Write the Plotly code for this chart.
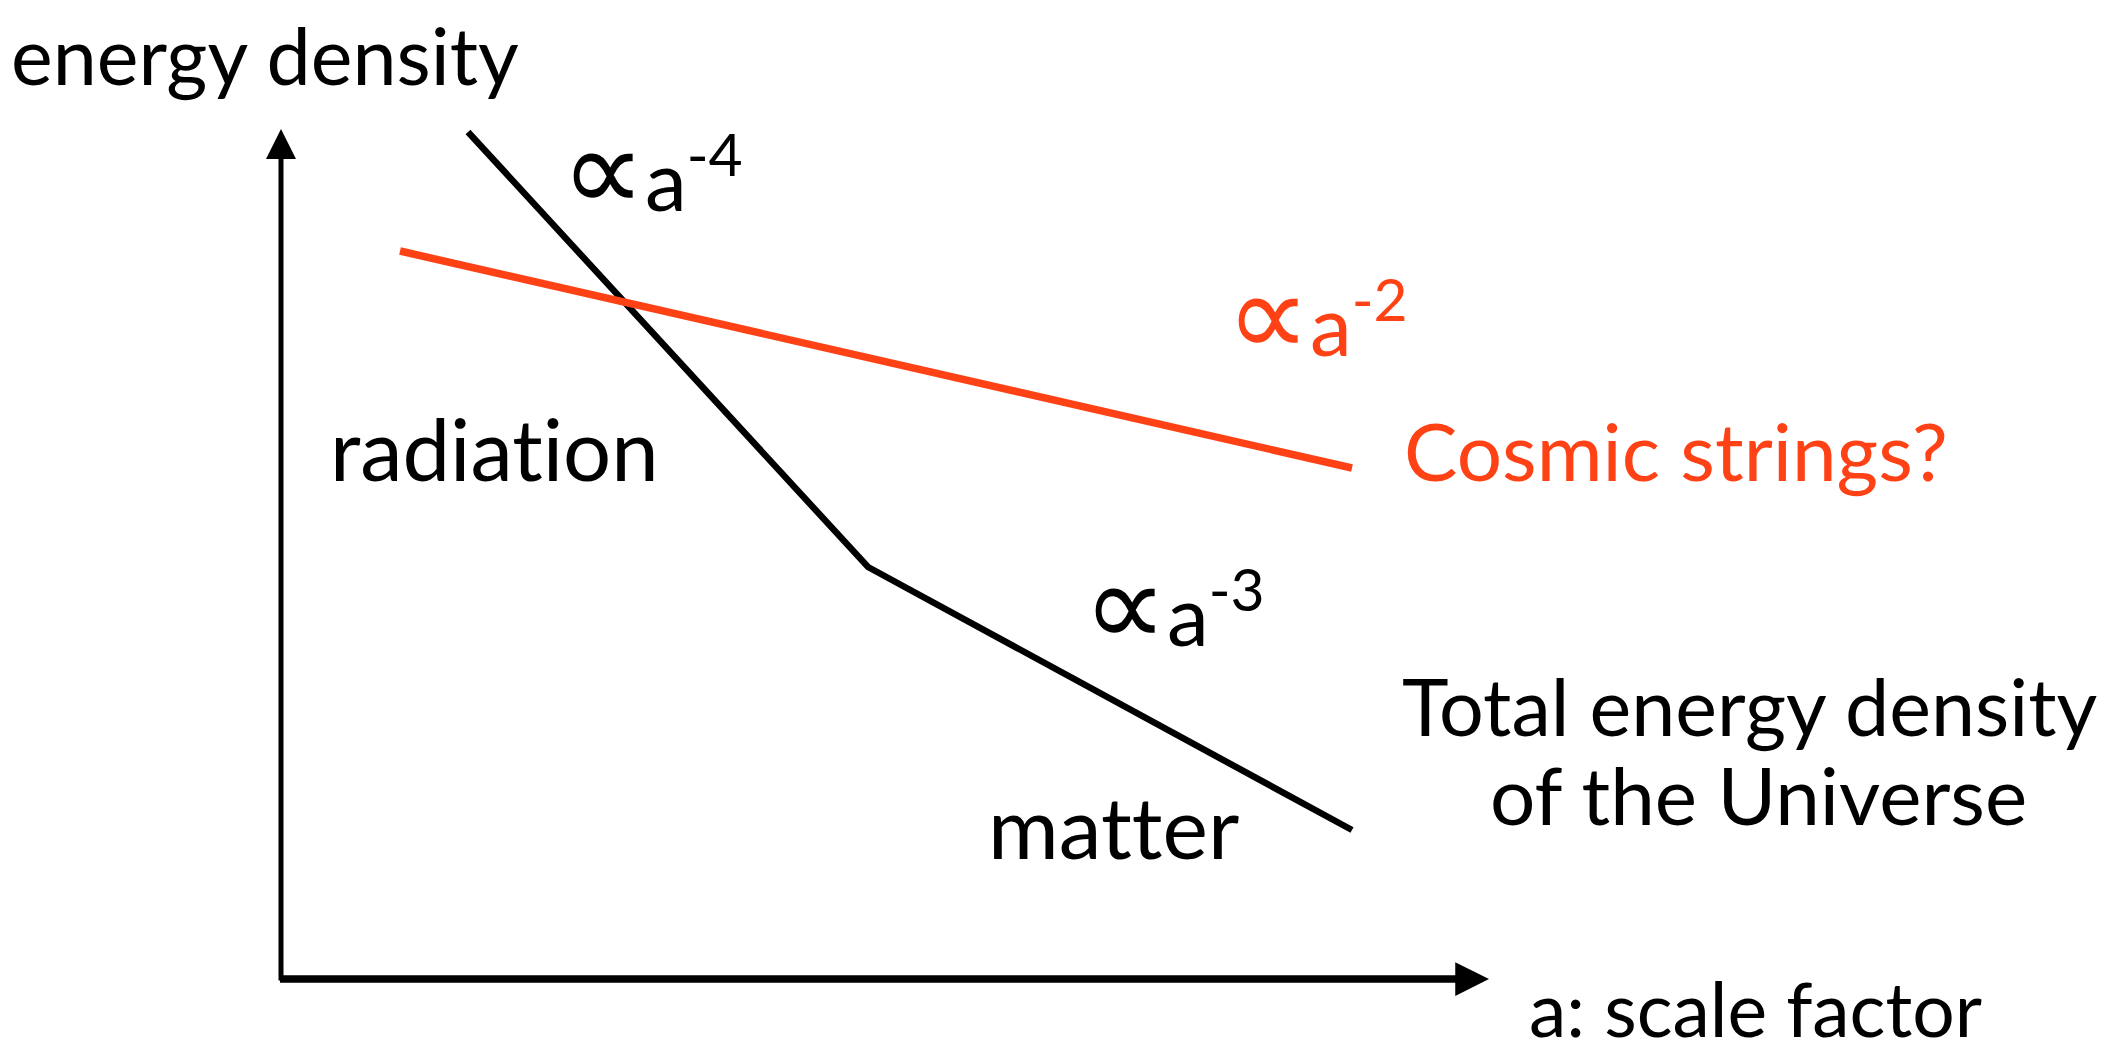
import plotly.graph_objects as go

# Data (arbitrary log-scale units; origin at axis corner)
total_a = [1.87, 5.87, 10.71]
total_rho = [8.47, 4.12, 1.49]
strings_a = [1.19, 10.71]
strings_rho = [7.28, 5.11]

RED = "#FF4216"
FONT = "Lato, 'Open Sans', sans-serif"
ZW = "\u200c"  # break the Lato 'ti'/'tt' ligatures

fig = go.Figure()
fig.add_trace(go.Scatter(x=total_a, y=total_rho, mode="lines",
                         line=dict(color="black", width=6.5), hoverinfo="skip"))
fig.add_trace(go.Scatter(x=strings_a, y=strings_rho, mode="lines",
                         line=dict(color=RED, width=7.5), hoverinfo="skip"))

# axes arrows
fig.add_annotation(x=0, y=8.50, ax=0, ay=-0.03, xref="x", yref="y", axref="x", ayref="y",
                   showarrow=True, arrowhead=2, arrowwidth=5, arrowsize=1.2,
                   arrowcolor="black", text="")
fig.add_annotation(x=12.08, y=0, ax=-0.025, ay=0, xref="x", yref="y", axref="x", ayref="y",
                   showarrow=True, arrowhead=2, arrowwidth=7.5, arrowsize=0.9,
                   arrowcolor="black", text="")

def prop(exp, size):
    return f"<span style='font-size:{size}px'>∝</span>a<sup>{exp}</sup>"

labels = [
    ("energy density", -2.72, 9.25, "left", 79, "black"),
    (prop("-4", 118), 2.78, 8.14, "left", 84, "black"),
    (prop("-2", 118), 9.43, 6.69, "left", 84, RED),
    ("Cosmic strings?", 11.21, 5.29, "left", 80, RED),
    ("radiat" + ZW + "ion", 0.47, 5.31, "left", 85, "black"),
    (prop("-3", 118), 8.00, 3.79, "left", 84, "black"),
    ("Total energy density", 14.69, 2.74, "center", 79, "black"),
    ("of the Universe", 14.77, 1.85, "center", 80, "black"),
    ("mat" + ZW + "t" + ZW + "er", 7.05, 1.54, "left", 86, "black"),
    ("a: scale factor", 12.46, -0.29, "left", 75, "black"),
]
for text, x, y, anchor, size, color in labels:
    fig.add_annotation(x=x, y=y, xref="x", yref="y", text=text, showarrow=False,
                       xanchor=anchor, yanchor="middle",
                       font=dict(family=FONT, size=size, color=color))

fig.update_layout(
    width=2127, height=1043,
    margin=dict(l=0, r=0, t=0, b=0),
    paper_bgcolor="white", plot_bgcolor="white",
    showlegend=False,
    xaxis=dict(range=[-2.81, 18.46], visible=False, fixedrange=True),
    yaxis=dict(range=[-0.64, 9.79], visible=False, fixedrange=True),
)
fig.write_html("out.html", config={"displayModeBar": False},
               post_script="document.body.style.margin='0';document.body.style.overflow='hidden';")
